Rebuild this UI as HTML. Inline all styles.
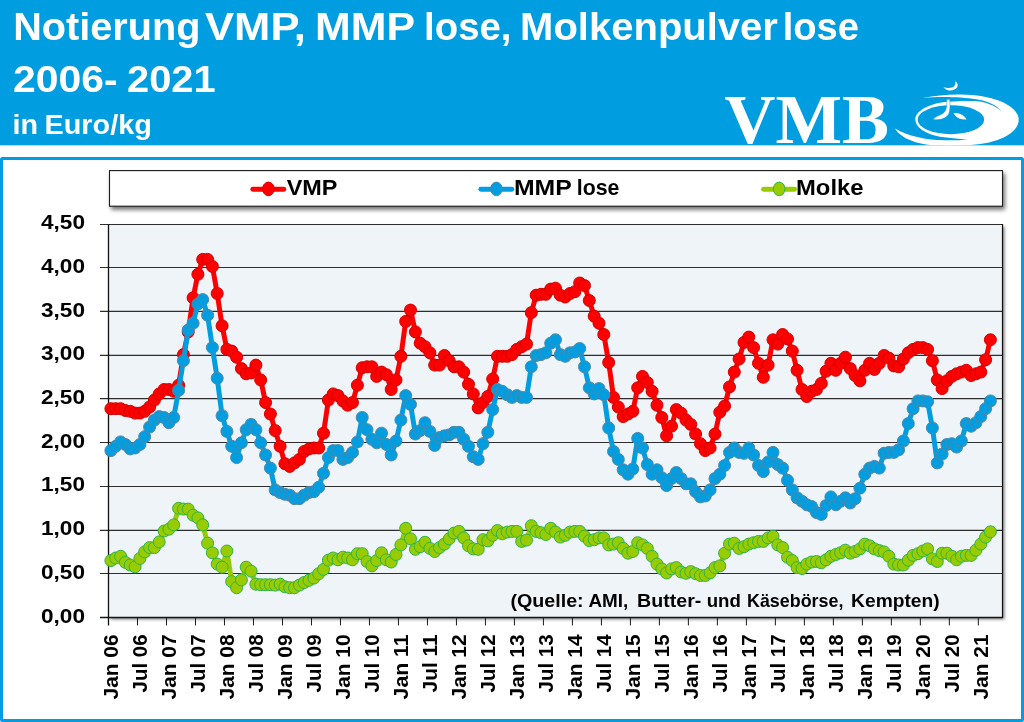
<!DOCTYPE html>
<html lang="de"><head><meta charset="utf-8"><title>Notierung VMP, MMP lose, Molkenpulver lose 2006-2021</title>
<style>html,body{margin:0;padding:0;background:#fff;}body{width:1024px;height:722px;overflow:hidden;}svg{display:block;}text{font-family:"Liberation Sans", sans-serif;font-weight:bold;}</style></head><body>
<svg width="1024" height="722" viewBox="0 0 1024 722">
<defs>
<filter id="sh" x="-5%" y="-5%" width="110%" height="115%"><feGaussianBlur in="SourceAlpha" stdDeviation="1.7"/><feOffset dx="2" dy="2"/><feComponentTransfer><feFuncA type="linear" slope="0.5"/></feComponentTransfer><feMerge><feMergeNode/><feMergeNode in="SourceGraphic"/></feMerge></filter>
<filter id="sh2" x="-5%" y="-20%" width="110%" height="160%"><feGaussianBlur in="SourceAlpha" stdDeviation="2"/><feOffset dx="1.8" dy="2.6"/><feComponentTransfer><feFuncA type="linear" slope="0.55"/></feComponentTransfer><feMerge><feMergeNode/><feMergeNode in="SourceGraphic"/></feMerge></filter>
<linearGradient id="pbg" x1="0" y1="0" x2="0" y2="1"><stop offset="0" stop-color="#EEF3F9"/><stop offset="1" stop-color="#F0F5FA"/></linearGradient>
<clipPath id="hdr"><rect x="0" y="0" width="1024" height="145.2"/></clipPath>
</defs>
<rect width="1024" height="722" fill="#fff"/>
<rect x="0" y="0" width="1024" height="145.3" fill="#009DE0"/>
<rect x="1.5" y="158.5" width="1021" height="562" rx="1" fill="#fff" stroke="#009DE0" stroke-width="3"/>
<text y="39.80" font-size="39.2" fill="#fff"><tspan x="13.23" textLength="187.12" lengthAdjust="spacingAndGlyphs">Notierung</tspan> <tspan x="205.07" textLength="100.91" lengthAdjust="spacingAndGlyphs">VMP,</tspan> <tspan x="315.13" textLength="99.18" lengthAdjust="spacingAndGlyphs">MMP</tspan> <tspan x="424.12" textLength="87.32" lengthAdjust="spacingAndGlyphs">lose,</tspan> <tspan x="520.10" textLength="257.84" lengthAdjust="spacingAndGlyphs">Molkenpulver</tspan> <tspan x="782.73" textLength="76.25" lengthAdjust="spacingAndGlyphs">lose</tspan></text>
<text y="92.20" font-size="37.7" fill="#fff"><tspan x="13.07" textLength="104.57" lengthAdjust="spacingAndGlyphs">2006-</tspan> <tspan x="127.01" textLength="88.58" lengthAdjust="spacingAndGlyphs">2021</tspan></text>
<text y="133.50" font-size="27.8" fill="#fff"><tspan x="12.49" textLength="25.58" lengthAdjust="spacingAndGlyphs">in</tspan> <tspan x="44.45" textLength="107.43" lengthAdjust="spacingAndGlyphs">Euro/kg</tspan></text>
<g clip-path="url(#hdr)">
<text y="143.40" font-size="69.5" fill="#fff" style="font-family:'Liberation Serif',serif;font-weight:bold"><tspan x="724.60" textLength="164.38" lengthAdjust="spacingAndGlyphs">VMB</tspan></text>
<path fill="#fff" d="M923,98 C935,95.5 948,94.3 961,94.5 C995,95 1018.7,106 1018.7,119.8 C1018.7,134 996,144.5 966,145.2 C932,147.6 905,144 894.9,128.5 Z"/>
<path fill="#009DE0" d="M1001.6,111.8 C997,105 988,101 976,99.2 C962,97.2 940,96.3 923,98 L888,104 L888,128 L894.9,128.5 C908,136 925,140 945,140.3 C955,140.5 962,140 968,139.4 C958,139 948,138 940,136.8 C925,134 915.3,127 915.3,119.5 C915.3,111 930,103 948,101.8 C960,101 972,100.6 980,101.6 C989,103.3 997,106.8 1001.6,111.8 Z"/>
<ellipse cx="950.9" cy="119.65" rx="33.2" ry="14.5" fill="#009DE0"/>
<path fill="#fff" stroke="#009DE0" stroke-width="0.5" d="M946.7,99.5 L949.7,99.3 C950,103 950.3,107.5 949.6,110.8 C949,117.5 942,120.6 933.2,119.4 C935.5,116.2 941,115.2 944,112.6 C946.8,110 947,104.5 946.7,99.5 Z"/>
<path fill="#fff" d="M953.6,113.1 C958.5,112.2 964,115 966.6,119.3 C961,120.4 955.6,117.6 953.6,113.1 Z"/>
<path fill="#fff" d="M943.7,87.4 C946,90.5 951,91.4 954.5,89.6 C958.4,87.6 959,83.4 955.1,81.2 C956,84.4 954.6,86.6 951.8,87.5 C949.4,88.2 946,88 943.7,87.2 Z"/>
</g>
<rect x="109.5" y="170.6" width="893" height="35.6" fill="#fff" stroke="#1a1a1a" stroke-width="1.1" filter="url(#sh2)"/>
<rect x="108.50" y="224.50" width="894.00" height="392.90" fill="#EFF4F9" filter="url(#sh)"/>
<rect x="108.50" y="224.50" width="894.00" height="392.90" fill="#EFF4F9"/>
<line x1="100" y1="617.50" x2="1002.50" y2="617.50" stroke="#151515" stroke-width="1.4"/>
<text x="85" y="622.50" font-size="21" fill="#000" text-anchor="end" textLength="44" lengthAdjust="spacingAndGlyphs">0,00</text>
<line x1="100" y1="573.50" x2="1002.50" y2="573.50" stroke="#2e2e2e" stroke-width="1.1"/>
<text x="85" y="578.83" font-size="21" fill="#000" text-anchor="end" textLength="44" lengthAdjust="spacingAndGlyphs">0,50</text>
<line x1="100" y1="530.40" x2="1002.50" y2="530.40" stroke="#2e2e2e" stroke-width="1.1"/>
<text x="85" y="535.16" font-size="21" fill="#000" text-anchor="end" textLength="44" lengthAdjust="spacingAndGlyphs">1,00</text>
<line x1="100" y1="486.50" x2="1002.50" y2="486.50" stroke="#2e2e2e" stroke-width="1.1"/>
<text x="85" y="491.49" font-size="21" fill="#000" text-anchor="end" textLength="44" lengthAdjust="spacingAndGlyphs">1,50</text>
<line x1="100" y1="442.50" x2="1002.50" y2="442.50" stroke="#2e2e2e" stroke-width="1.1"/>
<text x="85" y="447.82" font-size="21" fill="#000" text-anchor="end" textLength="44" lengthAdjust="spacingAndGlyphs">2,00</text>
<line x1="100" y1="398.60" x2="1002.50" y2="398.60" stroke="#2e2e2e" stroke-width="1.1"/>
<text x="85" y="404.15" font-size="21" fill="#000" text-anchor="end" textLength="44" lengthAdjust="spacingAndGlyphs">2,50</text>
<line x1="100" y1="355.40" x2="1002.50" y2="355.40" stroke="#2e2e2e" stroke-width="1.1"/>
<text x="85" y="360.48" font-size="21" fill="#000" text-anchor="end" textLength="44" lengthAdjust="spacingAndGlyphs">3,00</text>
<line x1="100" y1="311.40" x2="1002.50" y2="311.40" stroke="#2e2e2e" stroke-width="1.1"/>
<text x="85" y="316.81" font-size="21" fill="#000" text-anchor="end" textLength="44" lengthAdjust="spacingAndGlyphs">3,50</text>
<line x1="100" y1="267.50" x2="1002.50" y2="267.50" stroke="#2e2e2e" stroke-width="1.1"/>
<text x="85" y="273.14" font-size="21" fill="#000" text-anchor="end" textLength="44" lengthAdjust="spacingAndGlyphs">4,00</text>
<line x1="100" y1="224.50" x2="1002.50" y2="224.50" stroke="#2e2e2e" stroke-width="1.1"/>
<text x="85" y="229.47" font-size="21" fill="#000" text-anchor="end" textLength="44" lengthAdjust="spacingAndGlyphs">4,50</text>
<line x1="108.50" y1="224.50" x2="108.50" y2="625.40" stroke="#111" stroke-width="1.3"/>
<line x1="1002.50" y1="224.00" x2="1002.50" y2="618.00" stroke="#111" stroke-width="1.2"/>
<text transform="translate(118.30,634.4) rotate(-90)" font-size="21" fill="#000" text-anchor="end" textLength="65" lengthAdjust="spacingAndGlyphs">Jan 06</text>
<line x1="137.49" y1="617.40" x2="137.49" y2="625.40" stroke="#1a1a1a" stroke-width="1"/>
<text transform="translate(147.28,634.4) rotate(-90)" font-size="21" fill="#000" text-anchor="end" textLength="58" lengthAdjust="spacingAndGlyphs">Jul 06</text>
<line x1="166.49" y1="617.40" x2="166.49" y2="625.40" stroke="#1a1a1a" stroke-width="1"/>
<text transform="translate(176.26,634.4) rotate(-90)" font-size="21" fill="#000" text-anchor="end" textLength="65" lengthAdjust="spacingAndGlyphs">Jan 07</text>
<line x1="195.48" y1="617.40" x2="195.48" y2="625.40" stroke="#1a1a1a" stroke-width="1"/>
<text transform="translate(205.24,634.4) rotate(-90)" font-size="21" fill="#000" text-anchor="end" textLength="58" lengthAdjust="spacingAndGlyphs">Jul 07</text>
<line x1="224.48" y1="617.40" x2="224.48" y2="625.40" stroke="#1a1a1a" stroke-width="1"/>
<text transform="translate(234.22,634.4) rotate(-90)" font-size="21" fill="#000" text-anchor="end" textLength="65" lengthAdjust="spacingAndGlyphs">Jan 08</text>
<line x1="253.47" y1="617.40" x2="253.47" y2="625.40" stroke="#1a1a1a" stroke-width="1"/>
<text transform="translate(263.20,634.4) rotate(-90)" font-size="21" fill="#000" text-anchor="end" textLength="58" lengthAdjust="spacingAndGlyphs">Jul 08</text>
<line x1="282.47" y1="617.40" x2="282.47" y2="625.40" stroke="#1a1a1a" stroke-width="1"/>
<text transform="translate(292.18,634.4) rotate(-90)" font-size="21" fill="#000" text-anchor="end" textLength="65" lengthAdjust="spacingAndGlyphs">Jan 09</text>
<line x1="311.46" y1="617.40" x2="311.46" y2="625.40" stroke="#1a1a1a" stroke-width="1"/>
<text transform="translate(321.16,634.4) rotate(-90)" font-size="21" fill="#000" text-anchor="end" textLength="58" lengthAdjust="spacingAndGlyphs">Jul 09</text>
<line x1="340.46" y1="617.40" x2="340.46" y2="625.40" stroke="#1a1a1a" stroke-width="1"/>
<text transform="translate(350.14,634.4) rotate(-90)" font-size="21" fill="#000" text-anchor="end" textLength="65" lengthAdjust="spacingAndGlyphs">Jan 10</text>
<line x1="369.45" y1="617.40" x2="369.45" y2="625.40" stroke="#1a1a1a" stroke-width="1"/>
<text transform="translate(379.12,634.4) rotate(-90)" font-size="21" fill="#000" text-anchor="end" textLength="58" lengthAdjust="spacingAndGlyphs">Jul 10</text>
<line x1="398.45" y1="617.40" x2="398.45" y2="625.40" stroke="#1a1a1a" stroke-width="1"/>
<text transform="translate(408.10,634.4) rotate(-90)" font-size="21" fill="#000" text-anchor="end" textLength="65" lengthAdjust="spacingAndGlyphs">Jan 11</text>
<line x1="427.44" y1="617.40" x2="427.44" y2="625.40" stroke="#1a1a1a" stroke-width="1"/>
<text transform="translate(437.08,634.4) rotate(-90)" font-size="21" fill="#000" text-anchor="end" textLength="58" lengthAdjust="spacingAndGlyphs">Jul 11</text>
<line x1="456.44" y1="617.40" x2="456.44" y2="625.40" stroke="#1a1a1a" stroke-width="1"/>
<text transform="translate(466.06,634.4) rotate(-90)" font-size="21" fill="#000" text-anchor="end" textLength="65" lengthAdjust="spacingAndGlyphs">Jan 12</text>
<line x1="485.43" y1="617.40" x2="485.43" y2="625.40" stroke="#1a1a1a" stroke-width="1"/>
<text transform="translate(495.04,634.4) rotate(-90)" font-size="21" fill="#000" text-anchor="end" textLength="58" lengthAdjust="spacingAndGlyphs">Jul 12</text>
<line x1="514.42" y1="617.40" x2="514.42" y2="625.40" stroke="#1a1a1a" stroke-width="1"/>
<text transform="translate(524.02,634.4) rotate(-90)" font-size="21" fill="#000" text-anchor="end" textLength="65" lengthAdjust="spacingAndGlyphs">Jan 13</text>
<line x1="543.42" y1="617.40" x2="543.42" y2="625.40" stroke="#1a1a1a" stroke-width="1"/>
<text transform="translate(553.00,634.4) rotate(-90)" font-size="21" fill="#000" text-anchor="end" textLength="58" lengthAdjust="spacingAndGlyphs">Jul 13</text>
<line x1="572.41" y1="617.40" x2="572.41" y2="625.40" stroke="#1a1a1a" stroke-width="1"/>
<text transform="translate(581.98,634.4) rotate(-90)" font-size="21" fill="#000" text-anchor="end" textLength="65" lengthAdjust="spacingAndGlyphs">Jan 14</text>
<line x1="601.41" y1="617.40" x2="601.41" y2="625.40" stroke="#1a1a1a" stroke-width="1"/>
<text transform="translate(610.96,634.4) rotate(-90)" font-size="21" fill="#000" text-anchor="end" textLength="58" lengthAdjust="spacingAndGlyphs">Jul 14</text>
<line x1="630.40" y1="617.40" x2="630.40" y2="625.40" stroke="#1a1a1a" stroke-width="1"/>
<text transform="translate(639.94,634.4) rotate(-90)" font-size="21" fill="#000" text-anchor="end" textLength="65" lengthAdjust="spacingAndGlyphs">Jan 15</text>
<line x1="659.40" y1="617.40" x2="659.40" y2="625.40" stroke="#1a1a1a" stroke-width="1"/>
<text transform="translate(668.92,634.4) rotate(-90)" font-size="21" fill="#000" text-anchor="end" textLength="58" lengthAdjust="spacingAndGlyphs">Jul 15</text>
<line x1="688.39" y1="617.40" x2="688.39" y2="625.40" stroke="#1a1a1a" stroke-width="1"/>
<text transform="translate(697.90,634.4) rotate(-90)" font-size="21" fill="#000" text-anchor="end" textLength="65" lengthAdjust="spacingAndGlyphs">Jan 16</text>
<line x1="717.39" y1="617.40" x2="717.39" y2="625.40" stroke="#1a1a1a" stroke-width="1"/>
<text transform="translate(726.88,634.4) rotate(-90)" font-size="21" fill="#000" text-anchor="end" textLength="58" lengthAdjust="spacingAndGlyphs">Jul 16</text>
<line x1="746.38" y1="617.40" x2="746.38" y2="625.40" stroke="#1a1a1a" stroke-width="1"/>
<text transform="translate(755.86,634.4) rotate(-90)" font-size="21" fill="#000" text-anchor="end" textLength="65" lengthAdjust="spacingAndGlyphs">Jan 17</text>
<line x1="775.38" y1="617.40" x2="775.38" y2="625.40" stroke="#1a1a1a" stroke-width="1"/>
<text transform="translate(784.84,634.4) rotate(-90)" font-size="21" fill="#000" text-anchor="end" textLength="58" lengthAdjust="spacingAndGlyphs">Jul 17</text>
<line x1="804.37" y1="617.40" x2="804.37" y2="625.40" stroke="#1a1a1a" stroke-width="1"/>
<text transform="translate(813.82,634.4) rotate(-90)" font-size="21" fill="#000" text-anchor="end" textLength="65" lengthAdjust="spacingAndGlyphs">Jan 18</text>
<line x1="833.36" y1="617.40" x2="833.36" y2="625.40" stroke="#1a1a1a" stroke-width="1"/>
<text transform="translate(842.80,634.4) rotate(-90)" font-size="21" fill="#000" text-anchor="end" textLength="58" lengthAdjust="spacingAndGlyphs">Jul 18</text>
<line x1="862.36" y1="617.40" x2="862.36" y2="625.40" stroke="#1a1a1a" stroke-width="1"/>
<text transform="translate(871.78,634.4) rotate(-90)" font-size="21" fill="#000" text-anchor="end" textLength="65" lengthAdjust="spacingAndGlyphs">Jan 19</text>
<line x1="891.35" y1="617.40" x2="891.35" y2="625.40" stroke="#1a1a1a" stroke-width="1"/>
<text transform="translate(900.76,634.4) rotate(-90)" font-size="21" fill="#000" text-anchor="end" textLength="58" lengthAdjust="spacingAndGlyphs">Jul 19</text>
<line x1="920.35" y1="617.40" x2="920.35" y2="625.40" stroke="#1a1a1a" stroke-width="1"/>
<text transform="translate(929.74,634.4) rotate(-90)" font-size="21" fill="#000" text-anchor="end" textLength="65" lengthAdjust="spacingAndGlyphs">Jan 20</text>
<line x1="949.34" y1="617.40" x2="949.34" y2="625.40" stroke="#1a1a1a" stroke-width="1"/>
<text transform="translate(958.72,634.4) rotate(-90)" font-size="21" fill="#000" text-anchor="end" textLength="58" lengthAdjust="spacingAndGlyphs">Jul 20</text>
<line x1="978.34" y1="617.40" x2="978.34" y2="625.40" stroke="#1a1a1a" stroke-width="1"/>
<text transform="translate(987.70,634.4) rotate(-90)" font-size="21" fill="#000" text-anchor="end" textLength="65" lengthAdjust="spacingAndGlyphs">Jan 21</text>
<polyline points="110.9,408.7 115.7,408.7 120.6,408.7 125.4,410.5 130.2,411.3 135.1,413.1 139.9,413.1 144.7,411.3 149.6,407.0 154.4,400.0 159.2,393.9 164.1,389.5 168.9,389.5 173.7,391.3 178.6,385.2 183.4,354.6 188.2,331.9 193.1,297.8 197.9,274.3 202.7,259.4 207.6,259.4 212.4,266.4 217.2,293.5 222.1,325.8 226.9,349.4 231.7,351.1 236.6,357.2 241.4,368.6 246.2,373.8 251.1,372.9 255.9,365.1 260.7,379.9 265.6,402.6 270.4,414.0 275.2,430.6 280.1,446.3 284.9,463.7 289.7,466.4 294.5,462.9 299.4,459.4 304.2,451.5 309.0,448.9 313.9,448.0 318.7,448.0 323.5,433.2 328.4,400.0 333.2,393.9 338.0,395.6 342.9,400.9 347.7,405.2 352.5,402.6 357.4,385.2 362.2,367.7 367.0,366.8 371.9,366.8 376.7,376.4 381.5,372.1 386.4,374.7 391.2,389.5 396.0,379.9 400.9,356.3 405.7,321.4 410.5,310.1 415.4,331.9 420.2,343.2 425.0,346.7 429.9,352.8 434.7,365.1 439.5,365.1 444.4,355.5 449.2,360.7 454.0,366.8 458.9,366.8 463.7,372.1 468.5,384.3 473.3,393.9 478.2,407.9 483.0,402.6 487.8,396.5 492.7,379.0 497.5,356.3 502.3,356.3 507.2,356.3 512.0,354.6 516.8,349.4 521.7,346.7 526.5,344.1 531.3,312.7 536.2,295.2 541.0,294.3 545.8,294.3 550.7,289.1 555.5,288.2 560.3,295.2 565.2,297.0 570.0,293.5 574.8,291.7 579.7,283.0 584.5,285.6 589.3,300.5 594.2,316.2 599.0,323.2 603.8,334.5 608.7,362.5 613.5,397.4 618.3,407.0 623.2,416.6 628.0,414.0 632.8,411.3 637.7,387.8 642.5,376.4 647.3,382.5 652.1,391.3 657.0,405.2 661.8,417.5 666.6,435.8 671.5,426.2 676.3,409.6 681.1,413.1 686.0,420.1 690.8,424.4 695.6,434.0 700.5,443.7 705.3,450.6 710.1,448.0 715.0,434.0 719.8,412.2 724.6,406.1 729.5,386.9 734.3,372.1 739.1,359.0 744.0,342.4 748.8,337.1 753.6,347.6 758.5,363.3 763.3,377.3 768.1,365.1 773.0,339.8 777.8,344.1 782.6,334.5 787.5,338.9 792.3,351.1 797.1,370.3 802.0,389.5 806.8,396.5 811.6,391.3 816.5,389.5 821.3,383.4 826.1,371.2 830.9,363.3 835.8,370.3 840.6,363.3 845.4,357.2 850.3,368.6 855.1,375.5 859.9,380.8 864.8,370.3 869.6,363.3 874.4,369.4 879.3,363.3 884.1,355.5 888.9,358.1 893.8,365.9 898.6,366.8 903.4,359.0 908.3,352.8 913.1,349.4 917.9,347.6 922.8,347.6 927.6,349.4 932.4,360.7 937.3,379.9 942.1,388.6 946.9,380.8 951.8,376.4 956.6,373.8 961.4,372.1 966.3,370.3 971.1,375.5 975.9,373.8 980.8,372.1 985.6,359.8 990.4,339.8" fill="none" stroke="#FF0000" stroke-width="5.0" stroke-linejoin="round" stroke-linecap="round"/>
<g fill="#FF0000" stroke="#D40000" stroke-width="1">
<circle cx="110.9" cy="408.7" r="6"/>
<circle cx="115.7" cy="408.7" r="6"/>
<circle cx="120.6" cy="408.7" r="6"/>
<circle cx="125.4" cy="410.5" r="6"/>
<circle cx="130.2" cy="411.3" r="6"/>
<circle cx="135.1" cy="413.1" r="6"/>
<circle cx="139.9" cy="413.1" r="6"/>
<circle cx="144.7" cy="411.3" r="6"/>
<circle cx="149.6" cy="407.0" r="6"/>
<circle cx="154.4" cy="400.0" r="6"/>
<circle cx="159.2" cy="393.9" r="6"/>
<circle cx="164.1" cy="389.5" r="6"/>
<circle cx="168.9" cy="389.5" r="6"/>
<circle cx="173.7" cy="391.3" r="6"/>
<circle cx="178.6" cy="385.2" r="6"/>
<circle cx="183.4" cy="354.6" r="6"/>
<circle cx="188.2" cy="331.9" r="6"/>
<circle cx="193.1" cy="297.8" r="6"/>
<circle cx="197.9" cy="274.3" r="6"/>
<circle cx="202.7" cy="259.4" r="6"/>
<circle cx="207.6" cy="259.4" r="6"/>
<circle cx="212.4" cy="266.4" r="6"/>
<circle cx="217.2" cy="293.5" r="6"/>
<circle cx="222.1" cy="325.8" r="6"/>
<circle cx="226.9" cy="349.4" r="6"/>
<circle cx="231.7" cy="351.1" r="6"/>
<circle cx="236.6" cy="357.2" r="6"/>
<circle cx="241.4" cy="368.6" r="6"/>
<circle cx="246.2" cy="373.8" r="6"/>
<circle cx="251.1" cy="372.9" r="6"/>
<circle cx="255.9" cy="365.1" r="6"/>
<circle cx="260.7" cy="379.9" r="6"/>
<circle cx="265.6" cy="402.6" r="6"/>
<circle cx="270.4" cy="414.0" r="6"/>
<circle cx="275.2" cy="430.6" r="6"/>
<circle cx="280.1" cy="446.3" r="6"/>
<circle cx="284.9" cy="463.7" r="6"/>
<circle cx="289.7" cy="466.4" r="6"/>
<circle cx="294.5" cy="462.9" r="6"/>
<circle cx="299.4" cy="459.4" r="6"/>
<circle cx="304.2" cy="451.5" r="6"/>
<circle cx="309.0" cy="448.9" r="6"/>
<circle cx="313.9" cy="448.0" r="6"/>
<circle cx="318.7" cy="448.0" r="6"/>
<circle cx="323.5" cy="433.2" r="6"/>
<circle cx="328.4" cy="400.0" r="6"/>
<circle cx="333.2" cy="393.9" r="6"/>
<circle cx="338.0" cy="395.6" r="6"/>
<circle cx="342.9" cy="400.9" r="6"/>
<circle cx="347.7" cy="405.2" r="6"/>
<circle cx="352.5" cy="402.6" r="6"/>
<circle cx="357.4" cy="385.2" r="6"/>
<circle cx="362.2" cy="367.7" r="6"/>
<circle cx="367.0" cy="366.8" r="6"/>
<circle cx="371.9" cy="366.8" r="6"/>
<circle cx="376.7" cy="376.4" r="6"/>
<circle cx="381.5" cy="372.1" r="6"/>
<circle cx="386.4" cy="374.7" r="6"/>
<circle cx="391.2" cy="389.5" r="6"/>
<circle cx="396.0" cy="379.9" r="6"/>
<circle cx="400.9" cy="356.3" r="6"/>
<circle cx="405.7" cy="321.4" r="6"/>
<circle cx="410.5" cy="310.1" r="6"/>
<circle cx="415.4" cy="331.9" r="6"/>
<circle cx="420.2" cy="343.2" r="6"/>
<circle cx="425.0" cy="346.7" r="6"/>
<circle cx="429.9" cy="352.8" r="6"/>
<circle cx="434.7" cy="365.1" r="6"/>
<circle cx="439.5" cy="365.1" r="6"/>
<circle cx="444.4" cy="355.5" r="6"/>
<circle cx="449.2" cy="360.7" r="6"/>
<circle cx="454.0" cy="366.8" r="6"/>
<circle cx="458.9" cy="366.8" r="6"/>
<circle cx="463.7" cy="372.1" r="6"/>
<circle cx="468.5" cy="384.3" r="6"/>
<circle cx="473.3" cy="393.9" r="6"/>
<circle cx="478.2" cy="407.9" r="6"/>
<circle cx="483.0" cy="402.6" r="6"/>
<circle cx="487.8" cy="396.5" r="6"/>
<circle cx="492.7" cy="379.0" r="6"/>
<circle cx="497.5" cy="356.3" r="6"/>
<circle cx="502.3" cy="356.3" r="6"/>
<circle cx="507.2" cy="356.3" r="6"/>
<circle cx="512.0" cy="354.6" r="6"/>
<circle cx="516.8" cy="349.4" r="6"/>
<circle cx="521.7" cy="346.7" r="6"/>
<circle cx="526.5" cy="344.1" r="6"/>
<circle cx="531.3" cy="312.7" r="6"/>
<circle cx="536.2" cy="295.2" r="6"/>
<circle cx="541.0" cy="294.3" r="6"/>
<circle cx="545.8" cy="294.3" r="6"/>
<circle cx="550.7" cy="289.1" r="6"/>
<circle cx="555.5" cy="288.2" r="6"/>
<circle cx="560.3" cy="295.2" r="6"/>
<circle cx="565.2" cy="297.0" r="6"/>
<circle cx="570.0" cy="293.5" r="6"/>
<circle cx="574.8" cy="291.7" r="6"/>
<circle cx="579.7" cy="283.0" r="6"/>
<circle cx="584.5" cy="285.6" r="6"/>
<circle cx="589.3" cy="300.5" r="6"/>
<circle cx="594.2" cy="316.2" r="6"/>
<circle cx="599.0" cy="323.2" r="6"/>
<circle cx="603.8" cy="334.5" r="6"/>
<circle cx="608.7" cy="362.5" r="6"/>
<circle cx="613.5" cy="397.4" r="6"/>
<circle cx="618.3" cy="407.0" r="6"/>
<circle cx="623.2" cy="416.6" r="6"/>
<circle cx="628.0" cy="414.0" r="6"/>
<circle cx="632.8" cy="411.3" r="6"/>
<circle cx="637.7" cy="387.8" r="6"/>
<circle cx="642.5" cy="376.4" r="6"/>
<circle cx="647.3" cy="382.5" r="6"/>
<circle cx="652.1" cy="391.3" r="6"/>
<circle cx="657.0" cy="405.2" r="6"/>
<circle cx="661.8" cy="417.5" r="6"/>
<circle cx="666.6" cy="435.8" r="6"/>
<circle cx="671.5" cy="426.2" r="6"/>
<circle cx="676.3" cy="409.6" r="6"/>
<circle cx="681.1" cy="413.1" r="6"/>
<circle cx="686.0" cy="420.1" r="6"/>
<circle cx="690.8" cy="424.4" r="6"/>
<circle cx="695.6" cy="434.0" r="6"/>
<circle cx="700.5" cy="443.7" r="6"/>
<circle cx="705.3" cy="450.6" r="6"/>
<circle cx="710.1" cy="448.0" r="6"/>
<circle cx="715.0" cy="434.0" r="6"/>
<circle cx="719.8" cy="412.2" r="6"/>
<circle cx="724.6" cy="406.1" r="6"/>
<circle cx="729.5" cy="386.9" r="6"/>
<circle cx="734.3" cy="372.1" r="6"/>
<circle cx="739.1" cy="359.0" r="6"/>
<circle cx="744.0" cy="342.4" r="6"/>
<circle cx="748.8" cy="337.1" r="6"/>
<circle cx="753.6" cy="347.6" r="6"/>
<circle cx="758.5" cy="363.3" r="6"/>
<circle cx="763.3" cy="377.3" r="6"/>
<circle cx="768.1" cy="365.1" r="6"/>
<circle cx="773.0" cy="339.8" r="6"/>
<circle cx="777.8" cy="344.1" r="6"/>
<circle cx="782.6" cy="334.5" r="6"/>
<circle cx="787.5" cy="338.9" r="6"/>
<circle cx="792.3" cy="351.1" r="6"/>
<circle cx="797.1" cy="370.3" r="6"/>
<circle cx="802.0" cy="389.5" r="6"/>
<circle cx="806.8" cy="396.5" r="6"/>
<circle cx="811.6" cy="391.3" r="6"/>
<circle cx="816.5" cy="389.5" r="6"/>
<circle cx="821.3" cy="383.4" r="6"/>
<circle cx="826.1" cy="371.2" r="6"/>
<circle cx="830.9" cy="363.3" r="6"/>
<circle cx="835.8" cy="370.3" r="6"/>
<circle cx="840.6" cy="363.3" r="6"/>
<circle cx="845.4" cy="357.2" r="6"/>
<circle cx="850.3" cy="368.6" r="6"/>
<circle cx="855.1" cy="375.5" r="6"/>
<circle cx="859.9" cy="380.8" r="6"/>
<circle cx="864.8" cy="370.3" r="6"/>
<circle cx="869.6" cy="363.3" r="6"/>
<circle cx="874.4" cy="369.4" r="6"/>
<circle cx="879.3" cy="363.3" r="6"/>
<circle cx="884.1" cy="355.5" r="6"/>
<circle cx="888.9" cy="358.1" r="6"/>
<circle cx="893.8" cy="365.9" r="6"/>
<circle cx="898.6" cy="366.8" r="6"/>
<circle cx="903.4" cy="359.0" r="6"/>
<circle cx="908.3" cy="352.8" r="6"/>
<circle cx="913.1" cy="349.4" r="6"/>
<circle cx="917.9" cy="347.6" r="6"/>
<circle cx="922.8" cy="347.6" r="6"/>
<circle cx="927.6" cy="349.4" r="6"/>
<circle cx="932.4" cy="360.7" r="6"/>
<circle cx="937.3" cy="379.9" r="6"/>
<circle cx="942.1" cy="388.6" r="6"/>
<circle cx="946.9" cy="380.8" r="6"/>
<circle cx="951.8" cy="376.4" r="6"/>
<circle cx="956.6" cy="373.8" r="6"/>
<circle cx="961.4" cy="372.1" r="6"/>
<circle cx="966.3" cy="370.3" r="6"/>
<circle cx="971.1" cy="375.5" r="6"/>
<circle cx="975.9" cy="373.8" r="6"/>
<circle cx="980.8" cy="372.1" r="6"/>
<circle cx="985.6" cy="359.8" r="6"/>
<circle cx="990.4" cy="339.8" r="6"/>
</g>
<polyline points="110.9,450.6 115.7,446.3 120.6,441.9 125.4,444.5 130.2,448.9 135.1,448.0 139.9,444.5 144.7,436.7 149.6,427.1 154.4,420.1 159.2,416.6 164.1,417.5 168.9,422.7 173.7,417.5 178.6,390.4 183.4,360.7 188.2,330.1 193.1,323.2 197.9,304.0 202.7,299.6 207.6,315.3 212.4,347.6 217.2,378.2 222.1,415.7 226.9,431.4 231.7,446.3 236.6,457.6 241.4,442.8 246.2,429.7 251.1,424.4 255.9,429.7 260.7,442.8 265.6,455.0 270.4,468.1 275.2,489.9 280.1,492.5 284.9,494.3 289.7,495.2 294.5,498.7 299.4,498.7 304.2,495.2 309.0,492.5 313.9,491.7 318.7,487.3 323.5,473.3 328.4,457.6 333.2,450.6 338.0,450.6 342.9,459.4 347.7,457.6 352.5,452.4 357.4,441.9 362.2,417.5 367.0,429.7 371.9,439.3 376.7,442.8 381.5,433.2 386.4,444.5 391.2,455.0 396.0,441.0 400.9,420.1 405.7,395.6 410.5,404.4 415.4,434.0 420.2,430.6 425.0,422.7 429.9,431.4 434.7,445.4 439.5,437.5 444.4,435.8 449.2,434.9 454.0,432.3 458.9,432.3 463.7,439.3 468.5,446.3 473.3,456.7 478.2,459.4 483.0,443.7 487.8,432.3 492.7,409.6 497.5,389.5 502.3,391.3 507.2,394.8 512.0,397.4 516.8,395.6 521.7,397.4 526.5,397.4 531.3,366.8 536.2,355.5 541.0,354.6 545.8,352.8 550.7,343.2 555.5,339.8 560.3,354.6 565.2,356.3 570.0,352.8 574.8,352.0 579.7,348.5 584.5,366.8 589.3,387.8 594.2,393.9 599.0,388.6 603.8,394.8 608.7,427.9 613.5,451.5 618.3,459.4 623.2,469.8 628.0,474.2 632.8,469.0 637.7,438.4 642.5,448.0 647.3,464.6 652.1,474.2 657.0,469.8 661.8,477.7 666.6,485.6 671.5,478.6 676.3,472.5 681.1,478.6 686.0,483.8 690.8,483.8 695.6,491.7 700.5,496.9 705.3,496.0 710.1,489.9 715.0,478.6 719.8,474.2 724.6,465.5 729.5,452.4 734.3,448.0 739.1,452.4 744.0,453.3 748.8,448.0 753.6,455.0 758.5,465.5 763.3,471.6 768.1,462.0 773.0,452.4 777.8,464.6 782.6,468.1 787.5,480.3 792.3,489.9 797.1,497.8 802.0,501.3 806.8,504.8 811.6,506.5 816.5,512.6 821.3,514.4 826.1,505.6 830.9,496.9 835.8,504.8 840.6,501.3 845.4,497.8 850.3,503.0 855.1,498.7 859.9,488.2 864.8,474.2 869.6,468.1 874.4,466.4 879.3,468.1 884.1,453.3 888.9,452.4 893.8,452.4 898.6,449.8 903.4,441.0 908.3,423.6 913.1,408.7 917.9,400.9 922.8,400.9 927.6,401.7 932.4,427.9 937.3,462.9 942.1,454.1 946.9,444.5 951.8,443.7 956.6,447.1 961.4,441.0 966.3,423.6 971.1,426.2 975.9,422.7 980.8,416.6 985.6,408.7 990.4,400.9" fill="none" stroke="#009EE0" stroke-width="5.0" stroke-linejoin="round" stroke-linecap="round"/>
<g fill="#009EE0" stroke="#5288A8" stroke-width="1">
<circle cx="110.9" cy="450.6" r="6"/>
<circle cx="115.7" cy="446.3" r="6"/>
<circle cx="120.6" cy="441.9" r="6"/>
<circle cx="125.4" cy="444.5" r="6"/>
<circle cx="130.2" cy="448.9" r="6"/>
<circle cx="135.1" cy="448.0" r="6"/>
<circle cx="139.9" cy="444.5" r="6"/>
<circle cx="144.7" cy="436.7" r="6"/>
<circle cx="149.6" cy="427.1" r="6"/>
<circle cx="154.4" cy="420.1" r="6"/>
<circle cx="159.2" cy="416.6" r="6"/>
<circle cx="164.1" cy="417.5" r="6"/>
<circle cx="168.9" cy="422.7" r="6"/>
<circle cx="173.7" cy="417.5" r="6"/>
<circle cx="178.6" cy="390.4" r="6"/>
<circle cx="183.4" cy="360.7" r="6"/>
<circle cx="188.2" cy="330.1" r="6"/>
<circle cx="193.1" cy="323.2" r="6"/>
<circle cx="197.9" cy="304.0" r="6"/>
<circle cx="202.7" cy="299.6" r="6"/>
<circle cx="207.6" cy="315.3" r="6"/>
<circle cx="212.4" cy="347.6" r="6"/>
<circle cx="217.2" cy="378.2" r="6"/>
<circle cx="222.1" cy="415.7" r="6"/>
<circle cx="226.9" cy="431.4" r="6"/>
<circle cx="231.7" cy="446.3" r="6"/>
<circle cx="236.6" cy="457.6" r="6"/>
<circle cx="241.4" cy="442.8" r="6"/>
<circle cx="246.2" cy="429.7" r="6"/>
<circle cx="251.1" cy="424.4" r="6"/>
<circle cx="255.9" cy="429.7" r="6"/>
<circle cx="260.7" cy="442.8" r="6"/>
<circle cx="265.6" cy="455.0" r="6"/>
<circle cx="270.4" cy="468.1" r="6"/>
<circle cx="275.2" cy="489.9" r="6"/>
<circle cx="280.1" cy="492.5" r="6"/>
<circle cx="284.9" cy="494.3" r="6"/>
<circle cx="289.7" cy="495.2" r="6"/>
<circle cx="294.5" cy="498.7" r="6"/>
<circle cx="299.4" cy="498.7" r="6"/>
<circle cx="304.2" cy="495.2" r="6"/>
<circle cx="309.0" cy="492.5" r="6"/>
<circle cx="313.9" cy="491.7" r="6"/>
<circle cx="318.7" cy="487.3" r="6"/>
<circle cx="323.5" cy="473.3" r="6"/>
<circle cx="328.4" cy="457.6" r="6"/>
<circle cx="333.2" cy="450.6" r="6"/>
<circle cx="338.0" cy="450.6" r="6"/>
<circle cx="342.9" cy="459.4" r="6"/>
<circle cx="347.7" cy="457.6" r="6"/>
<circle cx="352.5" cy="452.4" r="6"/>
<circle cx="357.4" cy="441.9" r="6"/>
<circle cx="362.2" cy="417.5" r="6"/>
<circle cx="367.0" cy="429.7" r="6"/>
<circle cx="371.9" cy="439.3" r="6"/>
<circle cx="376.7" cy="442.8" r="6"/>
<circle cx="381.5" cy="433.2" r="6"/>
<circle cx="386.4" cy="444.5" r="6"/>
<circle cx="391.2" cy="455.0" r="6"/>
<circle cx="396.0" cy="441.0" r="6"/>
<circle cx="400.9" cy="420.1" r="6"/>
<circle cx="405.7" cy="395.6" r="6"/>
<circle cx="410.5" cy="404.4" r="6"/>
<circle cx="415.4" cy="434.0" r="6"/>
<circle cx="420.2" cy="430.6" r="6"/>
<circle cx="425.0" cy="422.7" r="6"/>
<circle cx="429.9" cy="431.4" r="6"/>
<circle cx="434.7" cy="445.4" r="6"/>
<circle cx="439.5" cy="437.5" r="6"/>
<circle cx="444.4" cy="435.8" r="6"/>
<circle cx="449.2" cy="434.9" r="6"/>
<circle cx="454.0" cy="432.3" r="6"/>
<circle cx="458.9" cy="432.3" r="6"/>
<circle cx="463.7" cy="439.3" r="6"/>
<circle cx="468.5" cy="446.3" r="6"/>
<circle cx="473.3" cy="456.7" r="6"/>
<circle cx="478.2" cy="459.4" r="6"/>
<circle cx="483.0" cy="443.7" r="6"/>
<circle cx="487.8" cy="432.3" r="6"/>
<circle cx="492.7" cy="409.6" r="6"/>
<circle cx="497.5" cy="389.5" r="6"/>
<circle cx="502.3" cy="391.3" r="6"/>
<circle cx="507.2" cy="394.8" r="6"/>
<circle cx="512.0" cy="397.4" r="6"/>
<circle cx="516.8" cy="395.6" r="6"/>
<circle cx="521.7" cy="397.4" r="6"/>
<circle cx="526.5" cy="397.4" r="6"/>
<circle cx="531.3" cy="366.8" r="6"/>
<circle cx="536.2" cy="355.5" r="6"/>
<circle cx="541.0" cy="354.6" r="6"/>
<circle cx="545.8" cy="352.8" r="6"/>
<circle cx="550.7" cy="343.2" r="6"/>
<circle cx="555.5" cy="339.8" r="6"/>
<circle cx="560.3" cy="354.6" r="6"/>
<circle cx="565.2" cy="356.3" r="6"/>
<circle cx="570.0" cy="352.8" r="6"/>
<circle cx="574.8" cy="352.0" r="6"/>
<circle cx="579.7" cy="348.5" r="6"/>
<circle cx="584.5" cy="366.8" r="6"/>
<circle cx="589.3" cy="387.8" r="6"/>
<circle cx="594.2" cy="393.9" r="6"/>
<circle cx="599.0" cy="388.6" r="6"/>
<circle cx="603.8" cy="394.8" r="6"/>
<circle cx="608.7" cy="427.9" r="6"/>
<circle cx="613.5" cy="451.5" r="6"/>
<circle cx="618.3" cy="459.4" r="6"/>
<circle cx="623.2" cy="469.8" r="6"/>
<circle cx="628.0" cy="474.2" r="6"/>
<circle cx="632.8" cy="469.0" r="6"/>
<circle cx="637.7" cy="438.4" r="6"/>
<circle cx="642.5" cy="448.0" r="6"/>
<circle cx="647.3" cy="464.6" r="6"/>
<circle cx="652.1" cy="474.2" r="6"/>
<circle cx="657.0" cy="469.8" r="6"/>
<circle cx="661.8" cy="477.7" r="6"/>
<circle cx="666.6" cy="485.6" r="6"/>
<circle cx="671.5" cy="478.6" r="6"/>
<circle cx="676.3" cy="472.5" r="6"/>
<circle cx="681.1" cy="478.6" r="6"/>
<circle cx="686.0" cy="483.8" r="6"/>
<circle cx="690.8" cy="483.8" r="6"/>
<circle cx="695.6" cy="491.7" r="6"/>
<circle cx="700.5" cy="496.9" r="6"/>
<circle cx="705.3" cy="496.0" r="6"/>
<circle cx="710.1" cy="489.9" r="6"/>
<circle cx="715.0" cy="478.6" r="6"/>
<circle cx="719.8" cy="474.2" r="6"/>
<circle cx="724.6" cy="465.5" r="6"/>
<circle cx="729.5" cy="452.4" r="6"/>
<circle cx="734.3" cy="448.0" r="6"/>
<circle cx="739.1" cy="452.4" r="6"/>
<circle cx="744.0" cy="453.3" r="6"/>
<circle cx="748.8" cy="448.0" r="6"/>
<circle cx="753.6" cy="455.0" r="6"/>
<circle cx="758.5" cy="465.5" r="6"/>
<circle cx="763.3" cy="471.6" r="6"/>
<circle cx="768.1" cy="462.0" r="6"/>
<circle cx="773.0" cy="452.4" r="6"/>
<circle cx="777.8" cy="464.6" r="6"/>
<circle cx="782.6" cy="468.1" r="6"/>
<circle cx="787.5" cy="480.3" r="6"/>
<circle cx="792.3" cy="489.9" r="6"/>
<circle cx="797.1" cy="497.8" r="6"/>
<circle cx="802.0" cy="501.3" r="6"/>
<circle cx="806.8" cy="504.8" r="6"/>
<circle cx="811.6" cy="506.5" r="6"/>
<circle cx="816.5" cy="512.6" r="6"/>
<circle cx="821.3" cy="514.4" r="6"/>
<circle cx="826.1" cy="505.6" r="6"/>
<circle cx="830.9" cy="496.9" r="6"/>
<circle cx="835.8" cy="504.8" r="6"/>
<circle cx="840.6" cy="501.3" r="6"/>
<circle cx="845.4" cy="497.8" r="6"/>
<circle cx="850.3" cy="503.0" r="6"/>
<circle cx="855.1" cy="498.7" r="6"/>
<circle cx="859.9" cy="488.2" r="6"/>
<circle cx="864.8" cy="474.2" r="6"/>
<circle cx="869.6" cy="468.1" r="6"/>
<circle cx="874.4" cy="466.4" r="6"/>
<circle cx="879.3" cy="468.1" r="6"/>
<circle cx="884.1" cy="453.3" r="6"/>
<circle cx="888.9" cy="452.4" r="6"/>
<circle cx="893.8" cy="452.4" r="6"/>
<circle cx="898.6" cy="449.8" r="6"/>
<circle cx="903.4" cy="441.0" r="6"/>
<circle cx="908.3" cy="423.6" r="6"/>
<circle cx="913.1" cy="408.7" r="6"/>
<circle cx="917.9" cy="400.9" r="6"/>
<circle cx="922.8" cy="400.9" r="6"/>
<circle cx="927.6" cy="401.7" r="6"/>
<circle cx="932.4" cy="427.9" r="6"/>
<circle cx="937.3" cy="462.9" r="6"/>
<circle cx="942.1" cy="454.1" r="6"/>
<circle cx="946.9" cy="444.5" r="6"/>
<circle cx="951.8" cy="443.7" r="6"/>
<circle cx="956.6" cy="447.1" r="6"/>
<circle cx="961.4" cy="441.0" r="6"/>
<circle cx="966.3" cy="423.6" r="6"/>
<circle cx="971.1" cy="426.2" r="6"/>
<circle cx="975.9" cy="422.7" r="6"/>
<circle cx="980.8" cy="416.6" r="6"/>
<circle cx="985.6" cy="408.7" r="6"/>
<circle cx="990.4" cy="400.9" r="6"/>
</g>
<polyline points="110.9,560.6 115.7,558.0 120.6,556.3 125.4,562.4 130.2,565.0 135.1,566.8 139.9,558.5 144.7,551.9 149.6,547.6 154.4,547.6 159.2,541.9 164.1,531.0 168.9,529.2 173.7,524.9 178.6,508.3 183.4,509.1 188.2,509.1 193.1,515.2 197.9,517.9 202.7,524.9 207.6,543.2 212.4,552.8 217.2,564.1 222.1,567.2 226.9,551.0 231.7,581.6 236.6,587.7 241.4,579.9 246.2,567.2 251.1,571.1 255.9,584.2 260.7,584.7 265.6,584.7 270.4,584.7 275.2,585.1 280.1,584.2 284.9,586.8 289.7,587.7 294.5,587.7 299.4,585.1 304.2,582.5 309.0,580.3 313.9,578.1 318.7,573.7 323.5,569.4 328.4,560.2 333.2,558.0 338.0,559.8 342.9,557.2 347.7,558.0 352.5,559.8 357.4,553.7 362.2,553.7 367.0,561.5 371.9,565.9 376.7,560.6 381.5,552.8 386.4,559.8 391.2,562.0 396.0,554.5 400.9,544.9 405.7,528.3 410.5,538.8 415.4,549.3 420.2,546.7 425.0,542.3 429.9,548.4 434.7,551.5 439.5,547.6 444.4,544.1 449.2,538.8 454.0,533.1 458.9,531.4 463.7,537.9 468.5,545.8 473.3,548.9 478.2,549.3 483.0,539.7 487.8,540.9 492.7,535.3 497.5,530.5 502.3,533.8 507.2,532.1 512.0,531.4 516.8,531.4 521.7,541.4 526.5,540.1 531.3,525.7 536.2,531.4 541.0,532.7 545.8,534.5 550.7,528.3 555.5,532.1 560.3,537.1 565.2,535.3 570.0,532.1 574.8,531.4 579.7,531.4 584.5,536.2 589.3,540.6 594.2,539.7 599.0,537.9 603.8,537.9 608.7,544.9 613.5,544.1 618.3,542.7 623.2,548.4 628.0,553.2 632.8,551.5 637.7,542.7 642.5,544.9 647.3,548.4 652.1,556.3 657.0,564.1 661.8,568.9 666.6,572.9 671.5,568.9 676.3,567.6 681.1,572.0 686.0,573.3 690.8,571.6 695.6,573.7 700.5,575.5 705.3,575.5 710.1,572.9 715.0,567.6 719.8,565.9 724.6,553.2 729.5,544.1 734.3,543.2 739.1,548.4 744.0,546.7 748.8,544.1 753.6,542.7 758.5,541.4 763.3,541.4 768.1,537.9 773.0,536.2 777.8,544.9 782.6,547.6 787.5,557.2 792.3,560.6 797.1,567.6 802.0,568.5 806.8,564.1 811.6,562.0 816.5,561.5 821.3,562.8 826.1,559.8 830.9,556.3 835.8,554.5 840.6,552.8 845.4,550.2 850.3,553.2 855.1,551.5 859.9,548.9 864.8,544.1 869.6,545.8 874.4,548.9 879.3,550.6 884.1,551.9 888.9,556.3 893.8,564.1 898.6,565.0 903.4,565.0 908.3,560.2 913.1,555.4 917.9,553.7 922.8,551.0 927.6,548.9 932.4,558.9 937.3,561.5 942.1,553.2 946.9,553.2 951.8,556.3 956.6,559.8 961.4,556.3 966.3,555.4 971.1,555.4 975.9,550.2 980.8,544.1 985.6,537.1 990.4,531.8" fill="none" stroke="#99CC00" stroke-width="5.0" stroke-linejoin="round" stroke-linecap="round"/>
<g fill="#99CC00" stroke="#2DB34A" stroke-width="1">
<circle cx="110.9" cy="560.6" r="6"/>
<circle cx="115.7" cy="558.0" r="6"/>
<circle cx="120.6" cy="556.3" r="6"/>
<circle cx="125.4" cy="562.4" r="6"/>
<circle cx="130.2" cy="565.0" r="6"/>
<circle cx="135.1" cy="566.8" r="6"/>
<circle cx="139.9" cy="558.5" r="6"/>
<circle cx="144.7" cy="551.9" r="6"/>
<circle cx="149.6" cy="547.6" r="6"/>
<circle cx="154.4" cy="547.6" r="6"/>
<circle cx="159.2" cy="541.9" r="6"/>
<circle cx="164.1" cy="531.0" r="6"/>
<circle cx="168.9" cy="529.2" r="6"/>
<circle cx="173.7" cy="524.9" r="6"/>
<circle cx="178.6" cy="508.3" r="6"/>
<circle cx="183.4" cy="509.1" r="6"/>
<circle cx="188.2" cy="509.1" r="6"/>
<circle cx="193.1" cy="515.2" r="6"/>
<circle cx="197.9" cy="517.9" r="6"/>
<circle cx="202.7" cy="524.9" r="6"/>
<circle cx="207.6" cy="543.2" r="6"/>
<circle cx="212.4" cy="552.8" r="6"/>
<circle cx="217.2" cy="564.1" r="6"/>
<circle cx="222.1" cy="567.2" r="6"/>
<circle cx="226.9" cy="551.0" r="6"/>
<circle cx="231.7" cy="581.6" r="6"/>
<circle cx="236.6" cy="587.7" r="6"/>
<circle cx="241.4" cy="579.9" r="6"/>
<circle cx="246.2" cy="567.2" r="6"/>
<circle cx="251.1" cy="571.1" r="6"/>
<circle cx="255.9" cy="584.2" r="6"/>
<circle cx="260.7" cy="584.7" r="6"/>
<circle cx="265.6" cy="584.7" r="6"/>
<circle cx="270.4" cy="584.7" r="6"/>
<circle cx="275.2" cy="585.1" r="6"/>
<circle cx="280.1" cy="584.2" r="6"/>
<circle cx="284.9" cy="586.8" r="6"/>
<circle cx="289.7" cy="587.7" r="6"/>
<circle cx="294.5" cy="587.7" r="6"/>
<circle cx="299.4" cy="585.1" r="6"/>
<circle cx="304.2" cy="582.5" r="6"/>
<circle cx="309.0" cy="580.3" r="6"/>
<circle cx="313.9" cy="578.1" r="6"/>
<circle cx="318.7" cy="573.7" r="6"/>
<circle cx="323.5" cy="569.4" r="6"/>
<circle cx="328.4" cy="560.2" r="6"/>
<circle cx="333.2" cy="558.0" r="6"/>
<circle cx="338.0" cy="559.8" r="6"/>
<circle cx="342.9" cy="557.2" r="6"/>
<circle cx="347.7" cy="558.0" r="6"/>
<circle cx="352.5" cy="559.8" r="6"/>
<circle cx="357.4" cy="553.7" r="6"/>
<circle cx="362.2" cy="553.7" r="6"/>
<circle cx="367.0" cy="561.5" r="6"/>
<circle cx="371.9" cy="565.9" r="6"/>
<circle cx="376.7" cy="560.6" r="6"/>
<circle cx="381.5" cy="552.8" r="6"/>
<circle cx="386.4" cy="559.8" r="6"/>
<circle cx="391.2" cy="562.0" r="6"/>
<circle cx="396.0" cy="554.5" r="6"/>
<circle cx="400.9" cy="544.9" r="6"/>
<circle cx="405.7" cy="528.3" r="6"/>
<circle cx="410.5" cy="538.8" r="6"/>
<circle cx="415.4" cy="549.3" r="6"/>
<circle cx="420.2" cy="546.7" r="6"/>
<circle cx="425.0" cy="542.3" r="6"/>
<circle cx="429.9" cy="548.4" r="6"/>
<circle cx="434.7" cy="551.5" r="6"/>
<circle cx="439.5" cy="547.6" r="6"/>
<circle cx="444.4" cy="544.1" r="6"/>
<circle cx="449.2" cy="538.8" r="6"/>
<circle cx="454.0" cy="533.1" r="6"/>
<circle cx="458.9" cy="531.4" r="6"/>
<circle cx="463.7" cy="537.9" r="6"/>
<circle cx="468.5" cy="545.8" r="6"/>
<circle cx="473.3" cy="548.9" r="6"/>
<circle cx="478.2" cy="549.3" r="6"/>
<circle cx="483.0" cy="539.7" r="6"/>
<circle cx="487.8" cy="540.9" r="6"/>
<circle cx="492.7" cy="535.3" r="6"/>
<circle cx="497.5" cy="530.5" r="6"/>
<circle cx="502.3" cy="533.8" r="6"/>
<circle cx="507.2" cy="532.1" r="6"/>
<circle cx="512.0" cy="531.4" r="6"/>
<circle cx="516.8" cy="531.4" r="6"/>
<circle cx="521.7" cy="541.4" r="6"/>
<circle cx="526.5" cy="540.1" r="6"/>
<circle cx="531.3" cy="525.7" r="6"/>
<circle cx="536.2" cy="531.4" r="6"/>
<circle cx="541.0" cy="532.7" r="6"/>
<circle cx="545.8" cy="534.5" r="6"/>
<circle cx="550.7" cy="528.3" r="6"/>
<circle cx="555.5" cy="532.1" r="6"/>
<circle cx="560.3" cy="537.1" r="6"/>
<circle cx="565.2" cy="535.3" r="6"/>
<circle cx="570.0" cy="532.1" r="6"/>
<circle cx="574.8" cy="531.4" r="6"/>
<circle cx="579.7" cy="531.4" r="6"/>
<circle cx="584.5" cy="536.2" r="6"/>
<circle cx="589.3" cy="540.6" r="6"/>
<circle cx="594.2" cy="539.7" r="6"/>
<circle cx="599.0" cy="537.9" r="6"/>
<circle cx="603.8" cy="537.9" r="6"/>
<circle cx="608.7" cy="544.9" r="6"/>
<circle cx="613.5" cy="544.1" r="6"/>
<circle cx="618.3" cy="542.7" r="6"/>
<circle cx="623.2" cy="548.4" r="6"/>
<circle cx="628.0" cy="553.2" r="6"/>
<circle cx="632.8" cy="551.5" r="6"/>
<circle cx="637.7" cy="542.7" r="6"/>
<circle cx="642.5" cy="544.9" r="6"/>
<circle cx="647.3" cy="548.4" r="6"/>
<circle cx="652.1" cy="556.3" r="6"/>
<circle cx="657.0" cy="564.1" r="6"/>
<circle cx="661.8" cy="568.9" r="6"/>
<circle cx="666.6" cy="572.9" r="6"/>
<circle cx="671.5" cy="568.9" r="6"/>
<circle cx="676.3" cy="567.6" r="6"/>
<circle cx="681.1" cy="572.0" r="6"/>
<circle cx="686.0" cy="573.3" r="6"/>
<circle cx="690.8" cy="571.6" r="6"/>
<circle cx="695.6" cy="573.7" r="6"/>
<circle cx="700.5" cy="575.5" r="6"/>
<circle cx="705.3" cy="575.5" r="6"/>
<circle cx="710.1" cy="572.9" r="6"/>
<circle cx="715.0" cy="567.6" r="6"/>
<circle cx="719.8" cy="565.9" r="6"/>
<circle cx="724.6" cy="553.2" r="6"/>
<circle cx="729.5" cy="544.1" r="6"/>
<circle cx="734.3" cy="543.2" r="6"/>
<circle cx="739.1" cy="548.4" r="6"/>
<circle cx="744.0" cy="546.7" r="6"/>
<circle cx="748.8" cy="544.1" r="6"/>
<circle cx="753.6" cy="542.7" r="6"/>
<circle cx="758.5" cy="541.4" r="6"/>
<circle cx="763.3" cy="541.4" r="6"/>
<circle cx="768.1" cy="537.9" r="6"/>
<circle cx="773.0" cy="536.2" r="6"/>
<circle cx="777.8" cy="544.9" r="6"/>
<circle cx="782.6" cy="547.6" r="6"/>
<circle cx="787.5" cy="557.2" r="6"/>
<circle cx="792.3" cy="560.6" r="6"/>
<circle cx="797.1" cy="567.6" r="6"/>
<circle cx="802.0" cy="568.5" r="6"/>
<circle cx="806.8" cy="564.1" r="6"/>
<circle cx="811.6" cy="562.0" r="6"/>
<circle cx="816.5" cy="561.5" r="6"/>
<circle cx="821.3" cy="562.8" r="6"/>
<circle cx="826.1" cy="559.8" r="6"/>
<circle cx="830.9" cy="556.3" r="6"/>
<circle cx="835.8" cy="554.5" r="6"/>
<circle cx="840.6" cy="552.8" r="6"/>
<circle cx="845.4" cy="550.2" r="6"/>
<circle cx="850.3" cy="553.2" r="6"/>
<circle cx="855.1" cy="551.5" r="6"/>
<circle cx="859.9" cy="548.9" r="6"/>
<circle cx="864.8" cy="544.1" r="6"/>
<circle cx="869.6" cy="545.8" r="6"/>
<circle cx="874.4" cy="548.9" r="6"/>
<circle cx="879.3" cy="550.6" r="6"/>
<circle cx="884.1" cy="551.9" r="6"/>
<circle cx="888.9" cy="556.3" r="6"/>
<circle cx="893.8" cy="564.1" r="6"/>
<circle cx="898.6" cy="565.0" r="6"/>
<circle cx="903.4" cy="565.0" r="6"/>
<circle cx="908.3" cy="560.2" r="6"/>
<circle cx="913.1" cy="555.4" r="6"/>
<circle cx="917.9" cy="553.7" r="6"/>
<circle cx="922.8" cy="551.0" r="6"/>
<circle cx="927.6" cy="548.9" r="6"/>
<circle cx="932.4" cy="558.9" r="6"/>
<circle cx="937.3" cy="561.5" r="6"/>
<circle cx="942.1" cy="553.2" r="6"/>
<circle cx="946.9" cy="553.2" r="6"/>
<circle cx="951.8" cy="556.3" r="6"/>
<circle cx="956.6" cy="559.8" r="6"/>
<circle cx="961.4" cy="556.3" r="6"/>
<circle cx="966.3" cy="555.4" r="6"/>
<circle cx="971.1" cy="555.4" r="6"/>
<circle cx="975.9" cy="550.2" r="6"/>
<circle cx="980.8" cy="544.1" r="6"/>
<circle cx="985.6" cy="537.1" r="6"/>
<circle cx="990.4" cy="531.8" r="6"/>
</g>
<line x1="252.8" y1="189.2" x2="283.8" y2="189.2" stroke="#FF0000" stroke-width="4.9" stroke-linecap="round"/>
<ellipse cx="268.4" cy="188.9" rx="5.8" ry="6.8" fill="#FF0000" stroke="#D40000" stroke-width="1"/>
<text y="195.00" font-size="21.2" fill="#000"><tspan x="286.72" textLength="50.78" lengthAdjust="spacingAndGlyphs">VMP</tspan></text>
<line x1="480.8" y1="189.2" x2="511.8" y2="189.2" stroke="#009EE0" stroke-width="4.9" stroke-linecap="round"/>
<ellipse cx="496.4" cy="188.9" rx="5.8" ry="6.8" fill="#009EE0" stroke="#5288A8" stroke-width="1"/>
<text y="195.00" font-size="21.2" fill="#000"><tspan x="513.94" textLength="57.33" lengthAdjust="spacingAndGlyphs">MMP</tspan> <tspan x="576.81" textLength="42.60" lengthAdjust="spacingAndGlyphs">lose</tspan></text>
<line x1="763.6" y1="189.2" x2="794.6" y2="189.2" stroke="#99CC00" stroke-width="4.9" stroke-linecap="round"/>
<ellipse cx="779.2" cy="188.9" rx="5.8" ry="6.8" fill="#99CC00" stroke="#2DB34A" stroke-width="1"/>
<text y="195.00" font-size="21.2" fill="#000"><tspan x="795.99" textLength="67.52" lengthAdjust="spacingAndGlyphs">Molke</tspan></text>
<text y="607.40" font-size="17.7" fill="#000"><tspan x="510.42" textLength="73.26" lengthAdjust="spacingAndGlyphs">(Quelle:</tspan> <tspan x="588.43" textLength="39.86" lengthAdjust="spacingAndGlyphs">AMI,</tspan> <tspan x="637.08" textLength="64.31" lengthAdjust="spacingAndGlyphs">Butter-</tspan> <tspan x="706.73" textLength="34.18" lengthAdjust="spacingAndGlyphs">und</tspan> <tspan x="746.99" textLength="96.40" lengthAdjust="spacingAndGlyphs">Käsebörse,</tspan> <tspan x="851.10" textLength="88.58" lengthAdjust="spacingAndGlyphs">Kempten)</tspan></text>
</svg></body></html>
